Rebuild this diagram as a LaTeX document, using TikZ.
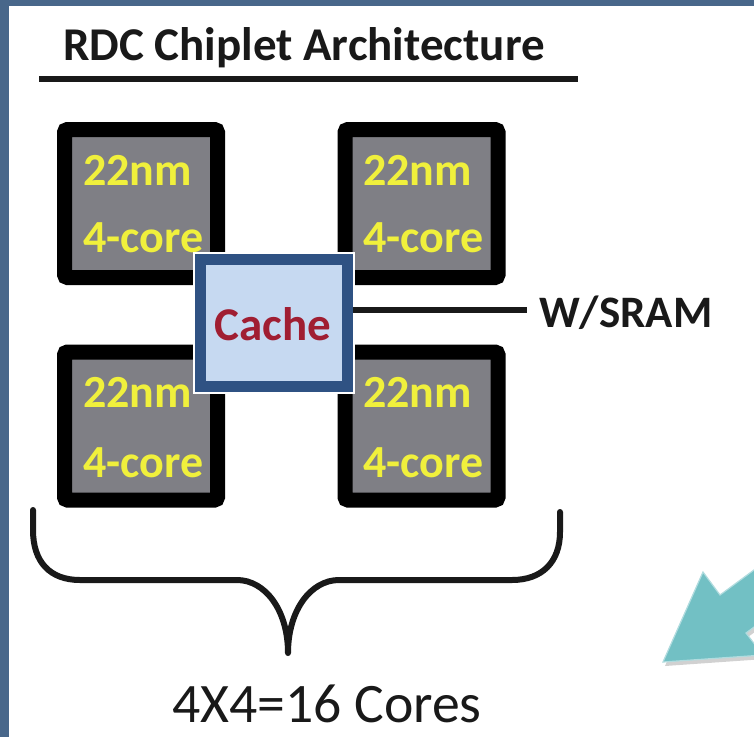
\documentclass[tikz,border=0pt]{standalone}
\usepackage{fontspec}
\setmainfont{Carlito}
\definecolor{framecol}{RGB}{72,103,138}
\definecolor{coregrey}{RGB}{127,127,133}
\definecolor{coreyellow}{RGB}{240,240,60}
\definecolor{cacheblue}{RGB}{47,82,131}
\definecolor{cachefill}{RGB}{198,217,241}
\definecolor{cachered}{RGB}{160,30,50}
\definecolor{arrowteal}{RGB}{114,192,196}
\definecolor{inkcol}{RGB}{25,25,25}
\tikzset{
  corebox/.style={draw=black, line width=15pt, fill=coregrey, rounded corners=3pt,
    minimum width=153pt, minimum height=148pt, inner sep=0pt},
  coretxt/.style={anchor=base west, inner sep=0pt, text=coreyellow,
    font=\fontsize{46}{50}\selectfont\bfseries},
  cachebox/.style={draw=cacheblue, line width=11pt, fill=cachefill,
    minimum width=147pt, minimum height=127pt, inner sep=0pt,
    preaction={draw=white, line width=15pt}},
  blacktxt/.style={anchor=base west, inner sep=0pt, text=inkcol},
  wire/.style={draw=inkcol, line width=6pt},
  bracestyle/.style={draw=inkcol, line width=6pt, line cap=round, line join=round}
}
\begin{document}
\begin{tikzpicture}[x=1pt,y=-1pt]
\useasboundingbox (0,0) rectangle (754,737);
\fill[white] (0,0) rectangle (754,737);
\fill[framecol] (0,0) rectangle (754,6);
\fill[framecol] (0,0) rectangle (9,737);

% title
\node[blacktxt, font=\fontsize{47}{50}\selectfont\bfseries] (title) at (63,60) {RDC Chiplet Architecture};
\coordinate (ulL) at (39,79);
\coordinate (ulR) at (578,79);
\draw[wire] (ulL) -- (ulR);

% cores
\node[corebox] (c1) at (141,203.5) {};
\node[corebox] (c2) at (421.5,203.5) {};
\node[corebox] (c3) at (141,426) {};
\node[corebox] (c4) at (421.5,426) {};

\node[coretxt] (c1a) at (83,185) {22nm};
\node[coretxt] (c1b) at (83,252) {4-core};
\node[coretxt] (c2a) at (363,185) {22nm};
\node[coretxt] (c2b) at (363,252) {4-core};
\node[coretxt] (c3a) at (83,407) {22nm};
\node[coretxt] (c3b) at (83,477) {4-core};
\node[coretxt] (c4a) at (363,407) {22nm};
\node[coretxt] (c4b) at (363,477) {4-core};

% cache
\node[cachebox] (cache) at (274,323) {};
\node[anchor=base, inner sep=0pt, text=cachered, font=\fontsize{47}{50}\selectfont\bfseries] (cachelbl) at (273,340) {Cache};

% W/SRAM
\node[blacktxt, font=\fontsize{45}{50}\selectfont\bfseries] (sram) at (539,327) {W/SRAM};
\coordinate (sramEnd) at (527,310);
\draw[wire] (cache.east |- sramEnd) -- (sramEnd);

% brace
\coordinate (brL) at (33,510);
\coordinate (brTip) at (288,653);
\coordinate (brR) at (560,512);
\draw[bracestyle] (brL) -- (33,530) .. controls (33,562) and (50,580) .. (80,580)
  -- (237,580) .. controls (265,580) and (288,610) .. (brTip)
  .. controls (288,610) and (311,580) .. (339,580)
  -- (512,580) .. controls (542,580) and (560,562) .. (560,532) -- (brR);

\node[blacktxt, font=\fontsize{55.7}{60}\selectfont] (total) at (172,722) {4X4=16 Cores};

% teal arrow
\begin{scope}
\clip (0,0) rectangle (754,737);
\fill[black, opacity=0.18] ([shift={(2,4)}]663,662) -- ([shift={(2,4)}]703,572) -- ([shift={(2,4)}]720,595)
  -- ([shift={(2,4)}]830,514) -- ([shift={(2,4)}]830,571) -- ([shift={(2,4)}]746,633)
  -- ([shift={(2,4)}]763,655) -- cycle;
\filldraw[fill=arrowteal, draw=arrowteal!55!white, line width=1.2pt, line join=miter]
  (663,662) -- (703,572) -- (720,595) -- (830,514) -- (830,571) -- (746,633) -- (763,655) -- cycle;
\end{scope}
\end{tikzpicture}
\end{document}
